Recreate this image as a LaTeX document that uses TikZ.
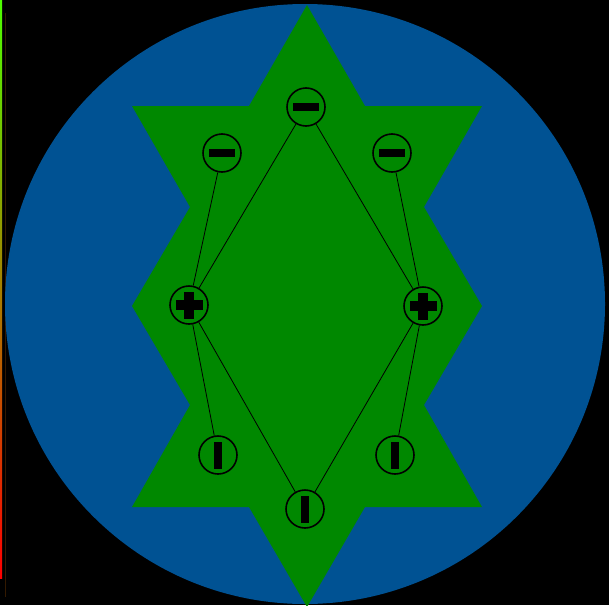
\documentclass[tikz,border=0pt]{standalone}
\usetikzlibrary{positioning}
\definecolor{discblue}{RGB}{0,82,147}
\definecolor{stargreen}{RGB}{0,136,0}
\begin{document}
\begin{tikzpicture}[
  x=1pt, y=-1pt,
  circ/.style={circle, draw, line width=1.6pt, fill=stargreen, minimum size=38pt, inner sep=0pt},
  minus/.style={circ, path picture={
    \fill[black] ([xshift=-13pt,yshift=-3.7pt]path picture bounding box.center) rectangle ([xshift=13pt,yshift=3.7pt]path picture bounding box.center);}},
  plus/.style={circ, path picture={
    \fill[black] ([xshift=-13.5pt,yshift=-4.7pt]path picture bounding box.center) rectangle ([xshift=13.5pt,yshift=4.7pt]path picture bounding box.center);
    \fill[black] ([xshift=-4.7pt,yshift=-13.5pt]path picture bounding box.center) rectangle ([xshift=4.7pt,yshift=13.5pt]path picture bounding box.center);}},
  bar/.style={circ, path picture={
    \fill[black] ([xshift=-3.7pt,yshift=-13.5pt]path picture bounding box.center) rectangle ([xshift=3.7pt,yshift=13.5pt]path picture bounding box.center);}},
  link/.style={line width=0.8pt}
]
\useasboundingbox (0,0) rectangle (609,605);
\fill[black] (0,0) rectangle (609,605);
\shade[top color=green!70!yellow, middle color=orange!80!yellow, bottom color=red] (0,0) rectangle (2.2,578);
\draw[black!80!orange, line width=0.6pt] (5,13) -- (5,597);
% disc and star
\fill[discblue] (305,304) circle (300);
\fill[stargreen, shift={(307,306)}]
  (0,-301) -- (58,-200) -- (175,-200) -- (117,-99) -- (175,0) -- (117,99)
  -- (175,201) -- (58,201) -- (0,301) -- (-58,201) -- (-175,201) -- (-117,99)
  -- (-175,0) -- (-117,-99) -- (-175,-200) -- (-58,-200) -- cycle;
% charges
\node[minus] (mt) at (306,107) {};
\node[minus] (ml) at (222,153) {};
\node[minus] (mr) at (392,153) {};
\node[plus] (pl) at (189,305) {};
\node[plus] (pr) at (423,306) {};
\node[bar] (nb) at (305,509) {};
\node[bar] (nl) at (218,455) {};
\node[bar] (nr) at (395,455) {};
\draw[link] (mt) -- (pl);
\draw[link] (mt) -- (pr);
\draw[link] (ml) -- (pl);
\draw[link] (mr) -- (pr);
\draw[link] (pl) -- (nl);
\draw[link] (pl) -- (nb);
\draw[link] (pr) -- (nr);
\draw[link] (pr) -- (nb);
\end{tikzpicture}
\end{document}
